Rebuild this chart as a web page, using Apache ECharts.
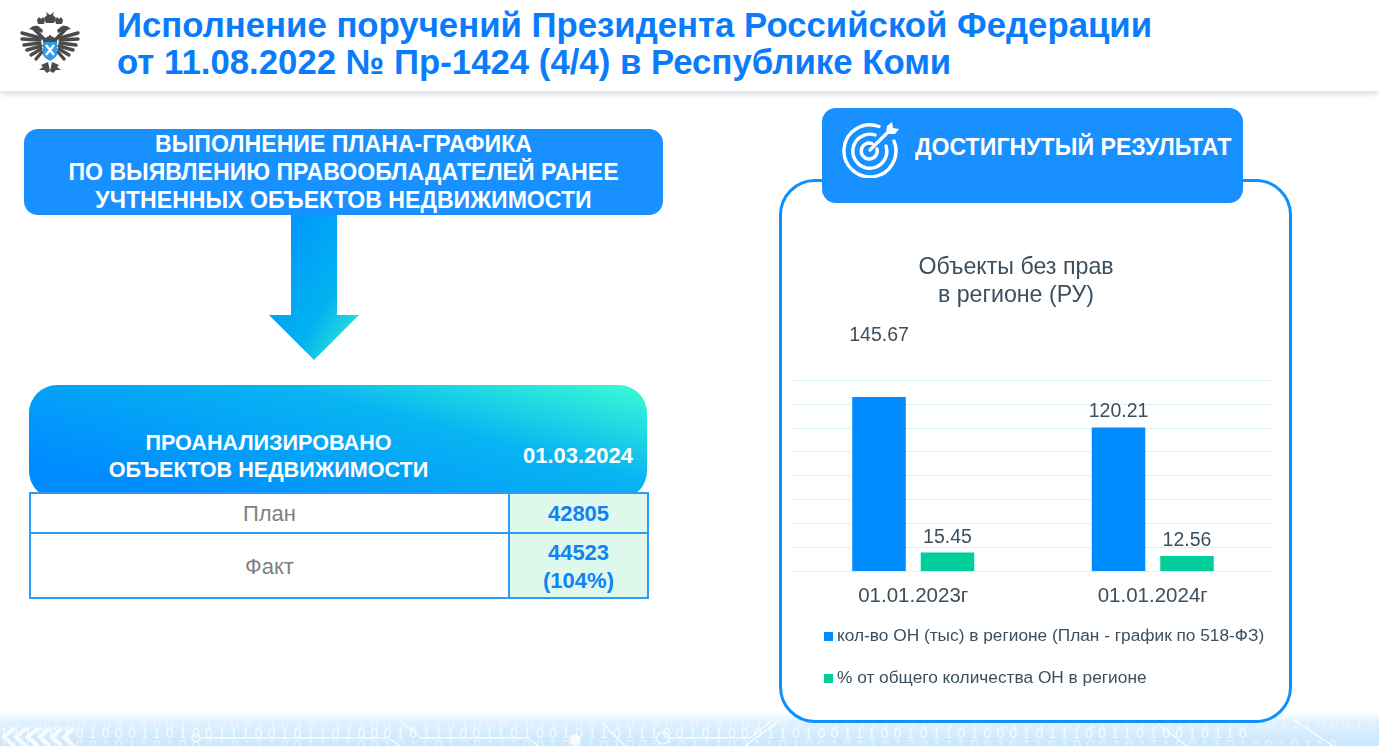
<!DOCTYPE html>
<html lang="ru">

<head>
    <meta http-equiv="content-type" content="text/html; charset=utf-8"/>
    <title>Исполнение поручений</title>
    <script src="https://cdn.jsdelivr.net/npm/echarts@6.0.0/dist/echarts.min.js"></script>
    <style>
        html, body {
            width: 1379px;
            height: 746px;
            margin: 0;
            overflow: hidden;
            background: #fff;
            font-family: "Liberation Sans", Arial, sans-serif;
        }

        .abs {
            position: absolute;
        }

        .header {
            left: 0;
            top: 0;
            width: 1379px;
            height: 91px;
            background: #fff;
            box-shadow: 0 2px 8px rgba(120, 145, 175, .4);
        }

        .head-title {
            left: 117px;
            top: 7px;
            color: #0a7cfb;
            font-size: 34.75px;
            line-height: 37px;
            font-weight: bold;
            white-space: nowrap;
        }

        .plan-box {
            left: 24px;
            top: 129px;
            width: 639px;
            height: 86px;
            background: #1890ff;
            border-radius: 14px;
            color: #fff;
            font-size: 23.1px;
            line-height: 28px;
            font-weight: bold;
            text-align: center;
            padding-top: 1px;
            box-sizing: border-box;
        }

        .tbl-head {
            left: 29px;
            top: 385px;
            width: 618px;
            height: 114px;
            border-radius: 28px;
            background: linear-gradient(195deg, #3bfdd3 0%, #08b4f2 35%, #008cff 85%);
        }

        .tbl-text {
            color: #fff;
            font-weight: bold;
            font-size: 21.6px;
            line-height: 27px;
            text-align: center;
        }

        table.res {
            left: 29px;
            top: 492px;
            width: 618px;
            height: 107px;
            border-collapse: collapse;
            table-layout: fixed;
            font-size: 22px;
            background: #fff;
        }

        table.res td {
            border: 2px solid #2e9bf6;
            text-align: center;
            padding: 2px 0 0 0;
            color: #7f7f7f;
        }

        table.res td.val {
            background: #def8ec;
            color: #0f82f5;
            font-weight: bold;
            line-height: 28px;
        }

        .card {
            left: 779px;
            top: 179px;
            width: 513px;
            height: 544px;
            border: 3px solid #0e90ff;
            border-radius: 36px;
            box-sizing: border-box;
            background: #fff;
        }

        .tab {
            left: 822px;
            top: 108px;
            width: 421px;
            height: 95px;
            border-radius: 14px;
            background: #1890ff;
        }

        .tab-text {
            left: 915px;
            top: 132px;
            color: #fff;
            font-size: 23.15px;
            line-height: 30px;
            font-weight: bold;
            white-space: nowrap;
        }

        .strip {
            left: 0;
            top: 712px;
            width: 1379px;
            height: 34px;
            background: linear-gradient(180deg, #ffffff 0%, #dff1fe 28%, #c8e7fd 100%);
            overflow: hidden;
        }

        .bits {
            left: 0;
            color: #fff;
            font-size: 14px;
            line-height: 14px;
            letter-spacing: 5.2px;
            white-space: nowrap;
        }

        .chart {
            position: absolute;
            left: 782px;
            top: 240px;
            width: 506px;
            height: 470px;
        }
    </style>
</head>

<body>
<div class="abs strip">
    <div class="abs bits" id="bits1" style="top:4px;opacity:.4"></div>
    <div class="abs bits" id="bits2" style="top:14px;opacity:.8"></div>
    <div class="abs bits" id="bits3" style="top:26px;opacity:.55"></div>
    <svg class="abs" style="left:0;top:0" width="1379" height="34" fill="none" stroke="#fff" stroke-width="1.5" opacity=".85">
        <path d="M200 26H388L400 34"/>
        <path d="M403 11L421 26H528L538 34"/>
        <path d="M602 11L625 34"/>
        <path d="M669 26H750L775 6M745 34L780 8"/>
        <path d="M1157 11L1187 34M1290 5L1333 34"/>
        <circle cx="196" cy="26" r="4"/>
        <circle cx="575" cy="28" r="5" fill="#fff"/>
        <circle cx="663" cy="26" r="6"/>
        <path d="M14 16L4 25L14 34M26 16L16 25L26 34M38 16L28 25L38 34M50 16L40 25L50 34M62 16L52 25L62 34M74 16L64 25L74 34" stroke-width="4"/>
    </svg>
</div>

<div class="abs header"></div>
<svg class="abs" style="left:19px;top:12px" width="63" height="63" viewBox="0 0 63 63">
    <g id="half" fill="#4b4b4b" stroke="#4b4b4b">
        <g fill="none" stroke-width="3.400" stroke-linecap="round">
            <path d="M21 26L3 21"/>
            <path d="M21 28L3 27"/>
            <path d="M21 31L5 33"/>
            <path d="M22 34L8 38"/>
            <path d="M22 37L12 43"/>
            <path d="M23 40L17 47"/>
            <path d="M15 17L25 27"/>
        </g>
        <g stroke="none">
            <path d="M18 8l2 -3 2 2 2 -2 2 3 -1 4h-6z"/>
            <path d="M10 17c3 -3 6 -4 9 -3l5 4 -1 3 -5 -2z"/>
            <path d="M29 50l-7 3 2 2 -4 3 5 0 3 3 3 -2z"/>
            <path d="M24 27l8 -4v20h-8z"/>
        </g>
    </g>
    <use href="#half" transform="matrix(-1 0 0 1 62 0)"/>
    <path d="M27 0l4 3 4 -3 -1 3 3 3 -2 5h-8l-2 -5 3 -3z" fill="#4b4b4b"/>
    <path d="M24 30h14v12c0 3 -4 5 -7 7c-3 -2 -7 -4 -7 -7z" fill="#2f9be9"/>
    <path d="M27 33l8 10M35 33l-8 10" stroke="#fff" stroke-width="2.200"/>
</svg>
<div class="abs head-title">Исполнение поручений Президента Российской Федерации<br>от 11.08.2022 № Пр-1424 (4/4) в Республике Коми</div>

<div class="abs plan-box">ВЫПОЛНЕНИЕ ПЛАНА-ГРАФИКА<br>ПО ВЫЯВЛЕНИЮ ПРАВООБЛАДАТЕЛЕЙ РАНЕЕ<br>УЧТНЕННЫХ ОБЪЕКТОВ НЕДВИЖИМОСТИ</div>
<svg class="abs" style="left:269px;top:215px" width="90" height="145" viewBox="0 0 90 145">
    <defs>
        <linearGradient id="arrowFill" x1="0" y1="0" x2="1" y2="1">
            <stop offset="0" stop-color="#0090ff"/>
            <stop offset=".62" stop-color="#02b2f0"/>
            <stop offset="1" stop-color="#3cf5d0"/>
        </linearGradient>
    </defs>
    <path d="M22 0H68V100H90L45 145L0 100H22Z" fill="url(#arrowFill)"/>
</svg>

<div class="abs tbl-head"></div>
<div class="abs tbl-text" style="left:29px;top:429px;width:479px">ПРОАНАЛИЗИРОВАНО<br>ОБЪЕКТОВ НЕДВИЖИМОСТИ</div>
<div class="abs tbl-text" style="left:508px;top:442px;width:140px;font-size:22px">01.03.2024</div>
<table class="abs res">
    <colgroup>
        <col style="width:479px">
        <col style="width:139px">
    </colgroup>
    <tr style="height:40px">
        <td>План</td>
        <td class="val">42805</td>
    </tr>
    <tr>
        <td>Факт</td>
        <td class="val">44523<br>(104%)</td>
    </tr>
</table>

<div class="abs card"></div>
<div class="abs tab"></div>
<svg class="abs" style="left:842px;top:120px" width="58" height="58" viewBox="0 0 58 58" fill="none" stroke="#fff" stroke-width="3.400" stroke-linecap="round">
    <path d="M37 6.500A26 26 0 1 0 52 21"/>
    <path d="M33 15A17 17 0 1 0 44 26"/>
    <path d="M30 23.500A8 8 0 1 0 35 29"/>
    <path d="M28 30L45 13"/>
    <path d="M44 14l1 -8 5 -4 1 6 6 1 -4 5z" fill="#fff" stroke="none"/>
</svg>
<div class="abs tab-text">ДОСТИГНУТЫЙ РЕЗУЛЬТАТ</div>

<div class="chart"></div>
<script>
    const categories = ["01.01.2023г", "01.01.2024г"];
    const series_objects = [145.67, 120.21];
    const series_percent = [15.45, 12.56];
    const name_objects = "кол-во ОН (тыс) в регионе (План - график по 518-ФЗ)";
    const name_percent = "% от общего количества ОН в регионе";

    // decorative binary rows of the bottom strip
    const bits_row = "0100110101110010100011010011100101101000101110011010010110";
    document.getElementById("bits1").textContent = bits_row.repeat(2);
    document.getElementById("bits2").textContent = bits_row.slice(9).repeat(2);
    document.getElementById("bits3").textContent = bits_row.slice(23).repeat(3);

    const textColor = "#3c4f5e";
    const gridColor = "#dcf0fc";

    const chart = echarts.init(document.querySelector(".chart"));
    const option = {
        animation: false,
        textStyle: {fontFamily: "Liberation Sans"},
        title: {
            text: "Объекты без прав\nв регионе (РУ)",
            left: 234,
            top: 9,
            textAlign: "center",
            textStyle: {
                color: textColor,
                fontSize: 23.2,
                fontWeight: "normal",
                lineHeight: 28
            },
            // textAlign anchors on the text box, so nudge to the reference centre
            padding: [5, 10, 5, 0]
        },
        legend: {
            orient: "vertical",
            left: 37,
            top: 383,
            itemWidth: 9,
            itemHeight: 9,
            itemGap: 25,
            icon: "rect",
            textStyle: {color: textColor, fontSize: 17.3, padding: [0, 0, 0, -1]},
            data: [name_objects, name_percent]
        },
        grid: {left: 11.5, right: 15.5, top: 140, height: 191},
        xAxis: {
            type: "category",
            data: categories,
            axisLine: {lineStyle: {color: gridColor}},
            axisTick: {show: false},
            axisLabel: {color: textColor, fontSize: 20.5, margin: 15}
        },
        yAxis: {
            type: "value",
            min: 0,
            max: 160,
            interval: 20,
            axisLine: {show: false},
            axisTick: {show: false},
            axisLabel: {show: false},
            splitLine: {lineStyle: {color: gridColor}}
        },
        series: [
            {
                name: name_objects,
                type: "bar",
                barWidth: 53.5,
                barGap: "28%",
                itemStyle: {color: "#008cff"},
                label: {show: true, position: "top", color: textColor, fontSize: 19.5, distance: 6},
                // the first label sits well above its bar in the reference
                data: series_objects.map((v, i) => i === 0 ? {value: v, label: {offset: [0, -45]}} : v)
            },
            {
                name: name_percent,
                type: "bar",
                barWidth: 53.5,
                itemStyle: {color: "#00cf9b"},
                label: {show: true, position: "top", color: textColor, fontSize: 19.5, distance: 5},
                data: series_percent
            }
        ]
    };
    chart.setOption(option);
</script>
</body>

</html>
